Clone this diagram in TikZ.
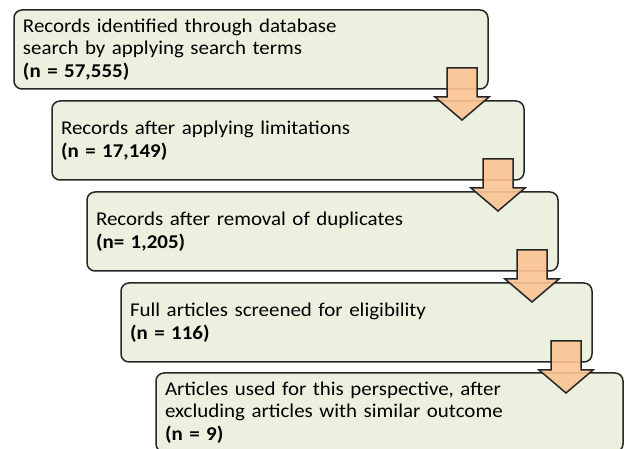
\documentclass[tikz,border=0pt]{standalone}
\usepackage{fontspec}
\setmainfont{Carlito}[FakeStretch=1.075, WordSpace=0.65]
\usetikzlibrary{calc}
\definecolor{boxfill}{HTML}{EBF1DE}
\definecolor{boxline}{HTML}{262626}
\definecolor{arrfill}{HTML}{FAC493}
\tikzset{
  stagebox/.style={draw=boxline, line width=1.5pt, fill=boxfill, rounded corners=8pt,
    rectangle, anchor=north west, outer sep=0pt, inner xsep=9pt, inner ysep=0pt,
    align=left, font=\fontsize{19.5pt}{22.5pt}\selectfont},
  blockarrow/.style={draw=boxline, line width=1.5pt, fill=arrfill, fill opacity=0.9, line join=miter}
}
\newcommand{\flowarrow}[1]{%
  \draw[blockarrow] ($(#1.south east)+(-41,-21)$) -- ($(#1.south east)+(-11,-21)$)
    -- ($(#1.south east)+(-11,8)$) -- ($(#1.south east)+(1,8)$)
    -- ($(#1.south east)+(-26,31)$) -- ($(#1.south east)+(-53,8)$)
    -- ($(#1.south east)+(-41,8)$) -- cycle;}
\begin{document}
\begin{tikzpicture}[x=1pt,y=-1pt]
\useasboundingbox (0,0) rectangle (625,449);
\node[stagebox, minimum width=474pt, minimum height=79pt, text width=456pt] (b1) at (14,10)
  {Records identified through database\\search by applying search terms\\\textbf{(n = 57,555)}};
\node[stagebox, minimum width=472pt, minimum height=79pt, text width=454pt] (b2) at (52,101)
  {Records after applying limitations\\\textbf{(n = 17,149)}};
\node[stagebox, minimum width=471pt, minimum height=79pt, text width=453pt] (b3) at (87,192)
  {Records after removal of duplicates\\\textbf{(n= 1,205)}};
\node[stagebox, minimum width=471pt, minimum height=79pt, text width=453pt] (b4) at (121,283)
  {Full articles screened for eligibility\\\textbf{(n = 116)}};
\node[stagebox, minimum width=467pt, minimum height=79pt, text width=449pt] (b5) at (156,373)
  {Articles used for this perspective, after\\excluding articles with similar outcome\\\textbf{(n = 9)}};
\flowarrow{b1}
\flowarrow{b2}
\flowarrow{b3}
\flowarrow{b4}
\end{tikzpicture}
\end{document}
